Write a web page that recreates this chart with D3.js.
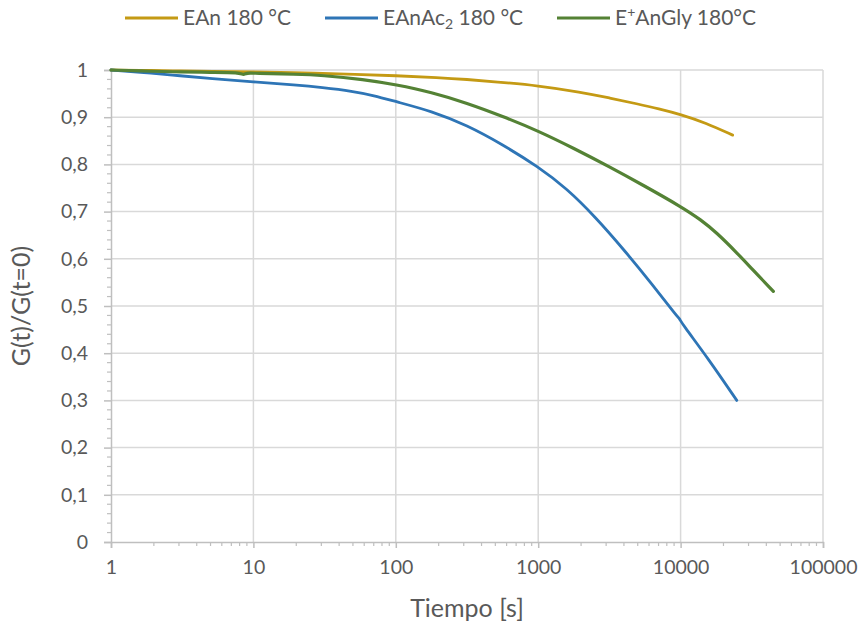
<!DOCTYPE html>
<html><head><meta charset="utf-8">
<script src="https://cdn.jsdelivr.net/npm/d3@7"></script>
<style>
html,body{margin:0;padding:0;background:#fff;}
text{font-family:Lato,"Open Sans",sans-serif;fill:#595959;}
</style></head>
<body><svg id="chart" width="864" height="629"></svg>
<script>
// ---- data ----
const seriesNames = ["EAn 180 °C", "EAnAc2 180 °C", "E+AnGly 180°C"];
const seriesColors = ["#C49A14", "#2E75B6", "#548235"];

const eanTime = [1, 2, 3, 5, 10, 20, 30, 50, 100, 200, 316, 500, 1000, 2000, 3162, 5000, 7000, 10000, 15000, 23200];
const eanValue = [1.000, 0.999, 0.998, 0.997, 0.996, 0.994, 0.993, 0.991, 0.988, 0.984, 0.980, 0.975, 0.967, 0.953, 0.941, 0.928, 0.918, 0.906, 0.888, 0.862];

const eanAcTime = [1, 2, 3, 5, 10, 20, 30, 50, 70, 100, 178, 316, 562, 1000, 1585, 2512, 3981, 6310, 9500, 9900, 10100, 15849, 24800];
const eanAcValue = [1.000, 0.993, 0.988, 0.982, 0.975, 0.968, 0.963, 0.955, 0.946, 0.933, 0.913, 0.883, 0.842, 0.795, 0.749, 0.689, 0.620, 0.546, 0.477, 0.472, 0.465, 0.386, 0.300];

const glyTime = [1, 2, 3, 5, 8, 8.5, 9, 10, 20, 30, 60, 100, 178, 316, 562, 1000, 1780, 3162, 5600, 10000, 14000, 17800, 25000, 31600, 44800];
const glyValue = [1.000, 0.997, 0.996, 0.995, 0.995, 0.989, 0.994, 0.993, 0.991, 0.989, 0.980, 0.969, 0.953, 0.930, 0.902, 0.871, 0.834, 0.795, 0.754, 0.711, 0.682, 0.656, 0.612, 0.579, 0.531];

const xTickValues = [1, 10, 100, 1000, 10000, 100000];
const yTickValues = [0, 0.1, 0.2, 0.3, 0.4, 0.5, 0.6, 0.7, 0.8, 0.9, 1];
const xTitle = "Tiempo [s]";
const yTitle = "G(t)/G(t=0)";

// ---- layout ----
const svg = d3.select("#chart");
const L = 111, R = 823, T = 70, B = 542;
const x = d3.scaleLog().domain([1, 100000]).range([L, R]);
const y = d3.scaleLinear().domain([0, 1]).range([B, T]);

const gridColor = "#d9d9d9", axisColor = "#bfbfbf";

// grid
svg.append("g").selectAll("line").data(yTickValues.filter(v => v > 0)).join("line")
  .attr("x1", L).attr("x2", R).attr("y1", d => y(d)).attr("y2", d => y(d))
  .attr("stroke", gridColor).attr("stroke-width", 1.5);
svg.append("g").selectAll("line").data(xTickValues.filter(v => v > 1)).join("line")
  .attr("y1", T).attr("y2", B).attr("x1", d => x(d)).attr("x2", d => x(d))
  .attr("stroke", gridColor).attr("stroke-width", 1.5);

// minor ticks
const xMinor = [];
for (let dec = 1; dec < 100000; dec *= 10) for (let k = 2; k <= 9; k++) xMinor.push(dec * k);
const yMinor = d3.range(0, 1.0001, 0.02).filter(v => Math.abs(v * 10 - Math.round(v * 10)) > 1e-6);

const fmtY = d => d3.format(".1~f")(d).replace(".", ",");

// x axis
const gx = svg.append("g").attr("transform", `translate(0,${B})`)
  .call(d3.axisBottom(x).tickValues(xTickValues).tickFormat(d3.format("d")).tickSize(6).tickPadding(12));
gx.select(".domain").attr("stroke", axisColor).attr("stroke-width", 1.5);
gx.selectAll(".tick line").attr("stroke", axisColor).attr("stroke-width", 1.5);
gx.selectAll(".tick text").style("font-size", "19.5px").style("font-family", "Lato").attr("fill", "#595959");
svg.append("g").selectAll("line").data(xMinor).join("line")
  .attr("x1", d => x(d)).attr("x2", d => x(d)).attr("y1", B).attr("y2", B + 4)
  .attr("stroke", axisColor).attr("stroke-width", 1.2);

// y axis
const gy = svg.append("g").attr("transform", `translate(${L},0)`)
  .call(d3.axisLeft(y).tickValues(yTickValues).tickFormat(fmtY).tickSize(7).tickPadding(16));
gy.select(".domain").attr("stroke", axisColor).attr("stroke-width", 1.5);
gy.selectAll(".tick line").attr("stroke", axisColor).attr("stroke-width", 1.5);
gy.selectAll(".tick text").style("font-size", "19.5px").style("font-family", "Lato").attr("fill", "#595959");
svg.append("g").selectAll("line").data(yMinor).join("line")
  .attr("x1", L - 4).attr("x2", L).attr("y1", d => y(d)).attr("y2", d => y(d))
  .attr("stroke", axisColor).attr("stroke-width", 1.2);

// series
const series = [
  {t: eanTime, v: eanValue},
  {t: eanAcTime, v: eanAcValue},
  {t: glyTime, v: glyValue}
];
const line = d3.line().x(d => x(d[0])).y(d => y(d[1])).curve(d3.curveBasis);
series.forEach((s, i) => {
  const pts = s.t.map((t, j) => [t, s.v[j]]);
  svg.append("path").datum(pts).attr("d", line)
    .attr("fill", "none").attr("stroke", seriesColors[i])
    .attr("stroke-width", i === 2 ? 3.2 : 2.8).attr("stroke-linejoin", "round").attr("stroke-linecap", "round");
});

// axis titles
svg.append("text").attr("x", (L + R) / 2).attr("y", 617).attr("text-anchor", "middle")
  .style("font-size", "25px").text(xTitle);
svg.append("text").attr("transform", `translate(30,${(T + B) / 2}) rotate(-90)`).attr("text-anchor", "middle")
  .style("font-size", "25px").text(yTitle);

// legend
const legendX = [125, 325, 557];
const lg = svg.append("g");
seriesNames.forEach((name, i) => {
  const g = lg.append("g").attr("transform", `translate(${legendX[i]},18)`);
  g.append("line").attr("x1", 0).attr("x2", 53).attr("stroke", seriesColors[i]).attr("stroke-width", 3);
  const txt = g.append("text").attr("x", 58).attr("y", 7).style("font-size", "21px");
  if (i === 0) txt.text(name);
  else if (i === 1) {
    txt.append("tspan").text("EAnAc");
    txt.append("tspan").attr("font-size", "14px").attr("dy", 4).text("2");
    txt.append("tspan").attr("dy", -4).text(" 180 °C");
  } else {
    txt.append("tspan").text("E");
    txt.append("tspan").attr("font-size", "14px").attr("dy", -8).text("+");
    txt.append("tspan").attr("dy", 8).text("AnGly 180°C");
  }
});
</script></body></html>
